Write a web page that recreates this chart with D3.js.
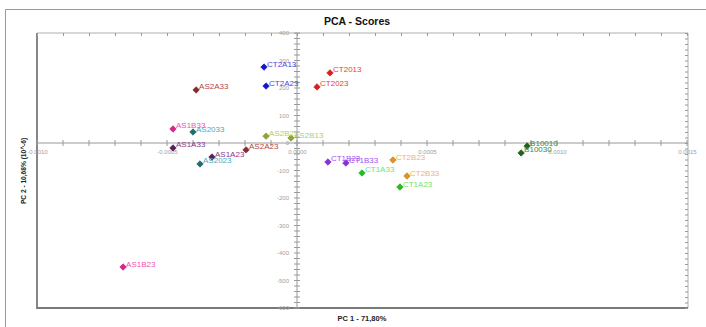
<!DOCTYPE html>
<html><head><meta charset="utf-8">
<script src="https://cdn.jsdelivr.net/npm/d3@7"></script>
<style>body{margin:0;background:#fff}svg{display:block;font-family:"Liberation Sans",Arial,sans-serif}</style>
</head><body><svg id="c" width="706" height="327"></svg>
<script>
const names = ["CT2A13","CT2A23","CT2013","CT2023","AS2A33","AS1B33","AS2033","AS2B23","AS2B13","AS1A33","AS1A23","AS2A23","AS2023","CT1B23","CT1B33","CT1A33","CT2B23","CT2B33","CT1A23","B10010","B10030","AS1B23"];
const pc1 = [-0.000127,-0.000119,0.000127,0.000077,-0.000388,-0.000477,-0.000400,-0.000119,-0.000023,-0.000477,-0.000327,-0.000196,-0.000373,0.000119,0.000188,0.000250,0.000369,0.000423,0.000396,0.000885,0.000862,-0.000669];
const pc2 = [276,207,255,204,193,51,40,25,18,-18,-51,-25,-76,-69,-73,-109,-62,-120,-160,-11,-36,-451];
const groups = ["CT2A","CT2A","CT20","CT20","AS2A","AS1B","AS20","AS2B","AS2B","AS1A","AS1A","AS2A","AS20","CT1B","CT1B","CT1A","CT2B","CT2B","CT1A","B100","B100","AS1B"];
const groupNames = ["CT2A","CT20","AS2A","AS1B","AS20","AS2B","AS1A","CT1B","CT1A","CT2B","B100"];
const markerColors = ["#1414d2","#e01c1c","#8a2a2a","#e0208c","#1f6e6e","#8cab2e","#5e1c5e","#8a2ee0","#1ec21e","#e09424","#1a661a"];
const labelColors  = ["#4646e6","#f03a3a","#b04848","#f050b0","#50a8b8","#b4cc64","#883a88","#a050f0","#6ee46e","#f4b455","#3a8a3a"];
const xTicks = [-0.0010,-0.0005,0.0000,0.0005,0.0010,0.0015];
const yTicks = [400,300,200,100,0,-100,-200,-300,-400,-500,-600];

const svg = d3.select("#c");
const L=37, R=688, T=33, B=308;
const x = d3.scaleLinear().domain([-0.0010,0.0015]).range([L,687]);
const y = d3.scaleLinear().domain([-600,400]).range([B,T]);
const cM = d3.scaleOrdinal().domain(groupNames).range(markerColors);
const cL = d3.scaleOrdinal().domain(groupNames).range(labelColors);

// outer frame
svg.append("path").attr("d",`M5.5,327V9.5H706`).attr("fill","none").attr("stroke","#9a9a9a").attr("stroke-width",1);

// title
svg.append("text").attr("x",357).attr("y",25).attr("text-anchor","middle").attr("font-weight","bold").attr("font-size",10.5).attr("fill","#111").text("PCA - Scores");
svg.append("text").attr("x",362).attr("y",321).attr("text-anchor","middle").attr("font-weight","bold").attr("font-size",7.5).attr("fill","#222").text("PC 1 - 71,80%");
svg.append("text").attr("transform","translate(26,171) rotate(-90)").attr("text-anchor","middle").attr("font-weight","bold").attr("font-size",6.6).attr("fill","#222").text("PC 2 - 10,68% (10^-6)");

// plot border
svg.append("path").attr("d",`M${L},${T}H${R}V${B}`).attr("fill","none").attr("stroke","#b0b0b0").attr("stroke-width",1);
svg.append("path").attr("d",`M${L},${T}V${B}H${R}`).attr("fill","none").attr("stroke","#7a7a7a").attr("stroke-width",1.8);

const axisCol="#9a9a9a";
const xMinor = d3.range(-10,16).map(i=>i*0.0001);
const yMinor = d3.range(-30,21).map(i=>i*20);

// top edge ticks
const gTop = svg.append("g").attr("transform",`translate(0,${T})`)
  .call(d3.axisBottom(x).tickValues(xMinor).tickSize(3).tickFormat(""));
gTop.select(".domain").remove();
gTop.selectAll("line").attr("stroke",axisCol);
// right edge ticks
const gRight = svg.append("g").attr("transform",`translate(${R},0)`)
  .call(d3.axisLeft(y).tickValues(yMinor).tickSize(3).tickFormat(""));
gRight.select(".domain").remove();
gRight.selectAll("line").attr("stroke",axisCol);

// x axis at y=0 (crossing ticks)
const gx = svg.append("g").attr("transform",`translate(0,${y(0)})`);
gx.append("line").attr("x1",L).attr("x2",R).attr("stroke",axisCol);
gx.selectAll(".mn").data(xMinor).join("line").attr("x1",d=>x(d)).attr("x2",d=>x(d))
  .attr("y1",-3).attr("y2",3).attr("stroke",axisCol);
const gxl = svg.append("g").attr("transform",`translate(0,${y(0)})`)
  .call(d3.axisBottom(x).tickValues(xTicks).tickSize(0).tickPadding(7).tickFormat(d3.format(".4f")));
gxl.select(".domain").remove();
gxl.selectAll("text").attr("font-size",6).attr("fill","#a0a0a0").attr("font-family","Liberation Sans, Arial, sans-serif")
  .text(d=>d3.format(".4f")(d).replace("−","-"));

// y axis at x=0
const gy = svg.append("g").attr("transform",`translate(${x(0)},0)`);
gy.append("line").attr("y1",T).attr("y2",B).attr("stroke",axisCol);
gy.selectAll(".mn").data(yMinor).join("line").attr("y1",d=>y(d)).attr("y2",d=>y(d))
  .attr("x1",-3).attr("x2",3).attr("stroke",axisCol);
const gyl = svg.append("g").attr("transform",`translate(${x(0)},0)`)
  .call(d3.axisLeft(y).tickValues(yTicks).tickSize(0).tickPadding(8).tickFormat(d=>String(d)));
gyl.select(".domain").remove();
gyl.selectAll("text").attr("font-size",6).attr("fill","#a0a0a0").attr("font-family","Liberation Sans, Arial, sans-serif");

// points
const data = names.map((n,i)=>({n, x:pc1[i], y:pc2[i], g:groups[i]}));
const diamond = d3.symbol().type(d3.symbolSquare).size(21);
svg.append("g").selectAll("path").data(data).join("path")
  .attr("d",diamond)
  .attr("transform",d=>`translate(${x(d.x)},${y(d.y)}) rotate(45)`)
  .attr("fill",d=>cM(d.g)).attr("stroke",d=>d3.color(cM(d.g)).darker(0.6)).attr("stroke-width",0.6);
svg.append("g").selectAll("text").data(data).join("text")
  .attr("x",d=>x(d.x)+3).attr("y",d=>y(d.y)-0.5)
  .attr("font-size",8).attr("fill",d=>cL(d.g)).text(d=>d.n);
</script></body></html>
